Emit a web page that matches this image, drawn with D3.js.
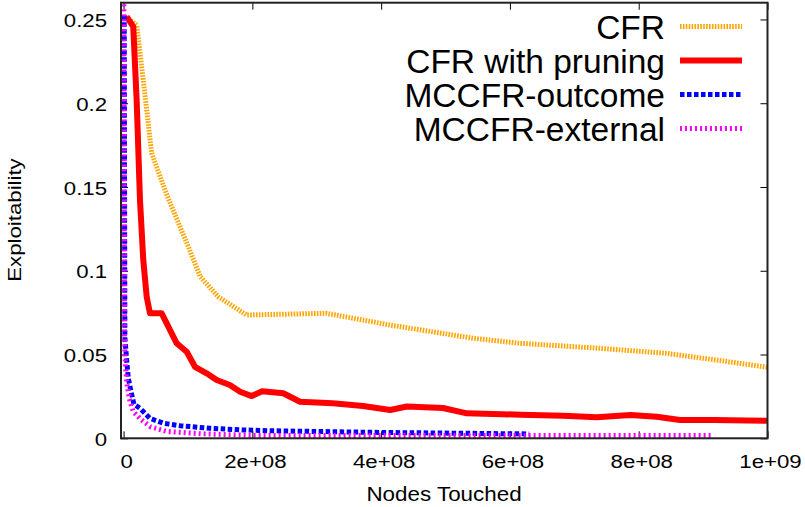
<!DOCTYPE html>
<html>
<head>
<meta charset="utf-8">
<script src="https://cdn.jsdelivr.net/npm/d3@7"></script>
<style>
  body { margin: 0; background: #fff; }
  svg { display: block; }
  text { font-family: "Liberation Sans", Arial, sans-serif; fill: #000; }
</style>
</head>
<body>
<svg id="chart" width="805" height="507"></svg>
<script>
// series (nodes touched, exploitability)
seriesNames = ["CFR", "CFR with pruning", "MCCFR-outcome", "MCCFR-external"];

cfrX = [4e6, 2.03e7, 2.81e7, 3.59e7, 4.36e7, 6.69e7, 8.76e7, 1.005e8, 1.19e8, 1.47e8, 1.91e8, 3.15e8, 4.14e8, 5.43e8, 6.16e8, 7.4e8, 8.43e8, 9.21e8, 1e9];
cfrY = [0.2515, 0.2467, 0.2218, 0.196, 0.1701, 0.1455, 0.1263, 0.1144, 0.0965, 0.0845, 0.0736, 0.0746, 0.0676, 0.0597, 0.0567, 0.0537, 0.0507, 0.0467, 0.0424];

pruneX = [4.8e6, 1.5e7, 2.03e7, 2.55e7, 3.06e7, 3.59e7, 4.1e7, 5.92e7, 8.25e7, 9.8e7, 1.109e8, 1.29e8, 1.446e8, 1.65e8, 1.81e8, 1.99e8, 2.15e8, 2.48e8, 2.74e8, 3.25e8, 3.72e8, 4.14e8, 4.4e8, 4.96e8, 5.33e8, 6.16e8, 6.83e8, 7.35e8, 7.87e8, 8.28e8, 8.64e8, 9.16e8, 1e9];
pruneY = [0.2517, 0.2457, 0.2019, 0.1422, 0.1064, 0.0845, 0.0746, 0.0746, 0.0567, 0.0517, 0.0427, 0.0388, 0.0348, 0.0318, 0.0278, 0.0252, 0.0281, 0.0269, 0.0218, 0.0209, 0.0193, 0.0169, 0.019, 0.0181, 0.0149, 0.0141, 0.0135, 0.0125, 0.0139, 0.0129, 0.0109, 0.0109, 0.0105];

outcomeX = [1e6, 2e6, 4.8e6, 7.3e6, 1.1e7, 1.6e7, 2.55e7, 4.1e7, 6.17e7, 8.76e7, 1.34e8, 1.85e8, 2.27e8, 4e8, 6.3e8];
outcomeY = [0.2525, 0.06, 0.0467, 0.036, 0.0289, 0.0205, 0.0179, 0.0119, 0.009, 0.0075, 0.006, 0.005, 0.0045, 0.0035, 0.0026];

externalX = [5e5, 1.5e6, 2.5e6, 5e6, 9e6, 1.5e7, 2.7e7, 4.2e7, 6.7e7, 1.2e8, 2e8, 5e8, 9.15e8];
externalY = [0.259, 0.06, 0.046, 0.033, 0.0235, 0.016, 0.0112, 0.0068, 0.0041, 0.0027, 0.0017, 0.0017, 0.0017];

xTicks = [0, 2e8, 4e8, 6e8, 8e8, 1e9];
xTickLabels = ["0", "2e+08", "4e+08", "6e+08", "8e+08", "1e+09"];
yTicks = [0, 0.05, 0.1, 0.15, 0.2, 0.25];
yTickLabels = ["0", "0.05", "0.1", "0.15", "0.2", "0.25"];

// line styles, same order as seriesNames
var styles = [
  {color: "#ffa500", width: 5, dash: "1.6,1.3"},
  {color: "#ff0000", width: 6, dash: null},
  {color: "#0000ff", width: 5, dash: "4.5,2.5"},
  {color: "#ff00ff", width: 5, dash: "2,3"}
];

var seriesData = [
  cfrX.map(function(d, i){ return [d, cfrY[i]]; }),
  pruneX.map(function(d, i){ return [d, pruneY[i]]; }),
  outcomeX.map(function(d, i){ return [d, outcomeY[i]]; }),
  externalX.map(function(d, i){ return [d, externalY[i]]; })
];

var plotLeft = 121, plotRight = 767.5, plotTop = 2.7, plotBottom = 438.3;
var stretch = 1.17;

var svg = d3.select("#chart");

var x = d3.scaleLinear().domain([-4e6, 1e9]).range([plotLeft, plotRight]);
var y = d3.scaleLinear().domain([0, 0.26]).range([plotBottom, plotTop]);

// bottom axis with labels, ticks pointing inward
var xAxis = svg.append("g")
  .attr("transform", "translate(0," + plotBottom + ")")
  .call(d3.axisBottom(x).tickValues(xTicks).tickSize(-7).tickPadding(16.2)
    .tickFormat(function(d, i){ return xTickLabels[i]; }));
xAxis.selectAll("text")
  .style("font-size", "19px")
  .attr("x", 2.5 / stretch)
  .attr("transform", "scale(" + stretch + ",1)");

var yAxis = svg.append("g")
  .attr("transform", "translate(" + plotLeft + ",0)")
  .call(d3.axisLeft(y).tickValues(yTicks).tickSize(-7).tickPadding(14)
    .tickFormat(function(d, i){ return yTickLabels[i]; }));
yAxis.selectAll("text")
  .style("font-size", "19px")
  .attr("dy", "0.37em")
  .attr("x", -14 / stretch)
  .attr("transform", "scale(" + stretch + ",1)");

// mirrored ticks on top and right
svg.append("g")
  .attr("transform", "translate(0," + plotTop + ")")
  .call(d3.axisTop(x).tickValues(xTicks).tickSize(-7).tickFormat(""));
svg.append("g")
  .attr("transform", "translate(" + plotRight + ",0)")
  .call(d3.axisRight(y).tickValues(yTicks).tickSize(-7).tickFormat(""));

svg.selectAll(".domain").remove();
svg.selectAll(".tick line").attr("stroke", "#000").attr("stroke-width", 1);

// curves
var line = d3.line()
  .x(function(d){ return x(d[0]); })
  .y(function(d){ return y(d[1]); });

for (i = 0; i < seriesData.length; i++) {
  svg.append("path")
    .datum(seriesData[i])
    .attr("d", line)
    .attr("fill", "none")
    .attr("stroke", styles[i].color)
    .attr("stroke-width", styles[i].width)
    .attr("stroke-dasharray", styles[i].dash)
    .attr("stroke-linejoin", "round");
}

// frame
svg.append("rect")
  .attr("x", plotLeft).attr("y", plotTop)
  .attr("width", plotRight - plotLeft).attr("height", plotBottom - plotTop)
  .attr("fill", "none")
  .attr("stroke", "#222")
  .attr("stroke-width", 2);

// axis titles
svg.append("text")
  .attr("transform", "translate(444,501) scale(1.12,1)")
  .attr("text-anchor", "middle")
  .style("font-size", "20px")
  .text("Nodes Touched");

svg.append("text")
  .attr("transform", "translate(21,220) rotate(-90) scale(" + stretch + ",1)")
  .attr("text-anchor", "middle")
  .style("font-size", "19px")
  .text("Exploitability");

// legend
var legend = svg.append("g");
for (i = 0; i < seriesNames.length; i++) {
  var ly = 38.5 + i * 34;
  legend.append("text")
    .attr("x", 665)
    .attr("y", ly)
    .attr("text-anchor", "end")
    .style("font-size", "33.5px")
    .text(seriesNames[i]);
  legend.append("line")
    .attr("x1", 680).attr("x2", 742)
    .attr("y1", ly - 12).attr("y2", ly - 12)
    .attr("stroke", styles[i].color)
    .attr("stroke-width", styles[i].width)
    .attr("stroke-dasharray", styles[i].dash);
}
</script>
</body>
</html>
